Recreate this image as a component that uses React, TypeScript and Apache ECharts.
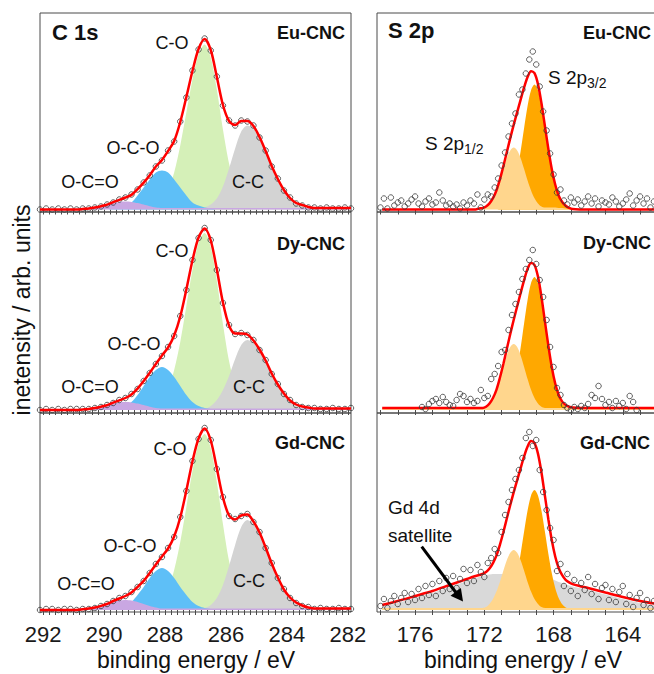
import { useEffect, useRef } from "react";
import * as echarts from "echarts";

// ---------- C 1s (binding energy grid, eV) ----------
const c1sEnergy = [292.1, 291.9, 291.7, 291.5, 291.3, 291.1, 290.9, 290.7, 290.5, 290.3, 290.1, 289.9, 289.7, 289.5, 289.3, 289.1, 288.9, 288.7, 288.5, 288.3, 288.1, 287.9, 287.7, 287.5, 287.3, 287.1, 286.9, 286.7, 286.5, 286.3, 286.1, 285.9, 285.7, 285.5, 285.3, 285.1, 284.9, 284.7, 284.5, 284.3, 284.1, 283.9, 283.7, 283.5, 283.3, 283.1, 282.9, 282.7, 282.5, 282.3, 282.1, 281.9];

const euCO = [0,0,0,0,0,0,0,0,0,0, 0,0,0,0,0,0,0,0,1,4, 9,20,37,64,97,130,155,165,152,120, 80,46,22,9,3,1,0,0,0,0, 0,0,0,0,0,0,0,0,0,0, 0,0];
const euCC = [0,0,0,0,0,0,0,0,0,0, 0,0,0,0,0,0,0,0,0,0, 0,0,0,0,0,0,0,2,5,11, 23,41,61,78,84,81,71,57,42,29, 18,10,5,3,1,0,0,0,0,0, 0,0];
const euOCO = [0,0,0,0,0,0,0,0,0,0, 0,0,1,2,4,7,14,22,30,37, 39,37,30,22,14,7,4,2,1,0, 0,0,0,0,0,0,0,0,0,0, 0,0,0,0,0,0,0,0,0,0, 0,0];
const euOCOO = [0,0,0,0,0,0,0,0.5,1,2, 3.3,4.9,6.4,7.6,8,7.6,6.4,4.9,3.3,2, 1.5,1.5,1.5,1.5,1.5,1.5,1.5,1.5,1.5,1.5, 1.5,1.5,1.5,1.5,1.5,1.5,1.5,1.5,1.5,1.5, 1.5,1.5,1.5,1.5,1.5,1.5,1.5,1.5,1.5,1.5, 1.5,1.5];
const euC1sData = [0,1,0,1,0,1,0,1,1,2, 3,5,7,10,12,15,20,27,34,43, 49,59,68,88,112,139,160,171,159,133, 104,89,84,89,88,84,72,59,43,31, 19,12,6,4,2,2,1,2,1,1, 2,1];

const dyCO = [0,0,0,0,0,0,0,0,0,0, 0,0,0,0,0,0,0,0,1,4, 10,21,40,68,104,140,167,177,163,129, 86,49,24,10,4,1,0,0,0,0, 0,0,0,0,0,0,0,0,0,0, 0,0];
const dyCC = [0,0,0,0,0,0,0,0,0,0, 0,0,0,0,0,0,0,0,0,0, 0,0,0,0,0,0,0,1,4,10, 20,34,51,65,70,67,59,48,35,24, 15,8,4,2,1,0,0,0,0,0, 0,0];
const dyOCO = [0,0,0,0,0,0,0,0,0,0, 0,0,1,2,4,8,15,24,33,40, 43,40,33,24,15,8,4,2,1,0, 0,0,0,0,0,0,0,0,0,0, 0,0,0,0,0,0,0,0,0,0, 0,0];
const dyOCOO = [0,0,0,0,0,0,0,0.5,1,2, 3.3,4.9,6.4,7.6,8,7.6,6.4,4.9,3.3,2, 1.5,1.5,1.5,1.5,1.5,1.5,1.5,1.5,1.5,1.5, 1.5,1.5,1.5,1.5,1.5,1.5,1.5,1.5,1.5,1.5, 1.5,1.5,1.5,1.5,1.5,1.5,1.5,1.5,1.5,1.5, 1.5,1.5];
const dyC1sData = [0,1,0,1,0,1,1,1,1,2, 3,5,7,10,12,16,21,29,37,46, 54,63,74,94,120,150,172,182,170,140, 107,85,76,77,75,70,60,50,36,26, 16,10,5,3,2,2,1,1,2,1, 1,2];

const gdCO = [0,0,0,0,0,0,0,0,0,0, 0,0,0,0,0,0,0,0,1,4, 10,21,40,68,103,139,166,176,162,128, 86,49,24,10,4,1,0,0,0,0, 0,0,0,0,0,0,0,0,0,0, 0,0];
const gdCC = [0,0,0,0,0,0,0,0,0,0, 0,0,0,0,0,0,0,0,0,0, 0,0,0,0,0,0,0,2,5,12, 25,44,65,83,90,86,76,61,45,31, 19,11,6,3,1,0,0,0,0,0, 0,0];
const gdOCO = [0,0,0,0,0,0,0,0,0,0, 0,0,1,2,4,8,15,23,32,39, 42,39,32,23,15,8,4,2,1,0, 0,0,0,0,0,0,0,0,0,0, 0,0,0,0,0,0,0,0,0,0, 0,0];
const gdOCOO = [0,0,0,0,0,0,0,0.7,1.4,2.5, 4.1,6.1,8,9.5,10,9.5,8,6.1,4.1,2.5, 1.5,1.5,1.5,1.5,1.5,1.5,1.5,1.5,1.5,1.5, 1.5,1.5,1.5,1.5,1.5,1.5,1.5,1.5,1.5,1.5, 1.5,1.5,1.5,1.5,1.5,1.5,1.5,1.5,1.5,1.5, 1.5,1.5];
const gdC1sData = [0,1,1,0,1,1,0,1,1,2, 4,6,9,12,14,18,23,29,37,46, 53,62,73,93,119,149,171,182,170,141, 113,94,91,94,96,88,78,62,47,32, 21,12,7,4,3,1,2,1,1,2, 1,1];

// ---------- S 2p ----------
const s2pEnergy = [177.9, 177.0, 176.0, 175.0, 174.0, 173.5, 173.0, 172.7, 172.5, 172.3, 172.1, 171.9, 171.7, 171.5, 171.3, 171.1, 170.9, 170.7, 170.5, 170.3, 170.1, 169.9, 169.7, 169.5, 169.3, 169.1, 168.9, 168.7, 168.5, 168.3, 168.1, 167.9, 167.7, 167.5, 167.3, 167.1, 166.9, 166.5, 166.0, 165.0, 164.0, 163.0, 162.0, 161.0];

const euS32 = [0,0,0,0,0,0,0,0,0,0, 0,0,0,0,0,1.1,2.8,6,12.3,22.8, 38.3,58.6,81.6,103.5,119.3,125,119.3,103.5,81.6,58.6, 38.3,22.8,12.3,6,2.8,1.1,0.4,0,0,0, 0,0,0,0];
const euS12 = [0,0,0,0,0,0,0,0,0,1, 1.5,3,6.1,11.3,19,29,40.5,51.3,59.1,62, 59.1,51.3,40.5,29,19,11.3,6.1,3,2,2, 2,2,1.5,1.5,1,0.5,0,0,0,0, 0,0,0,0];

const dyS32 = [0,0,0,0,0,0,0,0,0,0, 0,0,0,0,0,1.2,2.9,6.4,13,24.2, 40.7,62.4,86.8,110.1,126.9,133,126.9,110.1,86.8,62.4, 40.7,24.2,13,6.4,2.9,1.2,0.4,0,0,0, 0,0,0,0];
const dyS12 = [2,2,2,2,2,2,2,2,2,2, 2,3.2,6.5,12,20.2,31,43.1,54.6,63,66, 63,54.6,43.1,31,20.2,12,6.5,3.2,2,2, 2,2,2,2,2,2,2,2,2,2, 2,2,2,2];

const gdSat = [3,7,12,17,23,26,29,31,32,33, 34,35,35.5,36,36,36,36,36,36,36, 36,36,36,36,36,36,36,35.5,34,32.5, 31,29.5,28,27,25.5,24.5,23.5,22,20,15.5, 11,7,4,2];
const gdS32 = [0,0,0,0,0,0,0,0,0,0, 0,0,0,0,0,1.1,2.6,5.8,11.8,21.8, 36.7,56.3,78.4,99.4,114.5,120,114.5,99.4,78.4,56.3, 36.7,21.8,11.8,5.8,2.6,1.1,0.4,0,0,0, 0,0,0,0];
const gdS12 = [2,2,2,2,2,2,2,2,2,2, 2,2.9,5.9,10.9,18.4,28.1,39.2,49.7,57.2,60, 57.2,49.7,39.2,28.1,18.4,10.9,5.9,2.9,2,2, 2,2,2,2,2,2,2,2,2,2, 2,2,2,2];

const s2pDataEnergy = [178.0,177.8,177.6,177.4,177.2,177.0,176.8,176.6,176.4,176.2, 176.0,175.8,175.6,175.4,175.2,175.0,174.8,174.6,174.4,174.2, 174.0,173.8,173.6,173.4,173.2,173.0,172.8,172.6,172.4,172.2, 172.0,171.8,171.6,171.4,171.2,171.0,170.8,170.6,170.4,170.2, 170.0,169.8,169.6,169.4,169.2,169.0,168.8,168.6,168.4,168.2, 168.0,167.8,167.6,167.4,167.2,167.0,166.8,166.6,166.4,166.2, 166.0,165.8,165.6,165.4,165.2,165.0,164.8,164.6,164.4,164.2, 164.0,163.8,163.6,163.4,163.2,163.0,162.8,162.6,162.4,162.2];
const euS2pData = [2,11,1,12,4,7,9,3,6,10, 13,6,3,8,11,5,7,17,9,4, 6,3,5,1,7,4,9,6,15,2, 10,15,13,22,31,44,57,73,86,96, 115,120,136,150,158,145,123,98,79,56, 35,17,20,9,5,12,7,10,4,8, 13,6,11,3,9,7,5,12,8,3, 6,10,16,4,9,13,6,11,2,8];
const dyS2pData = [null,null,null,null,null,null,null,null,null,null, null,null,3,1,6,9,11,7,13,8, 5,4,10,16,14,8,11,7,9,20, 12,14,31,36,44,58,60,80,95,106, 118,131,141,150,160,146,130,113,90,63, 43,22,15,5,2,0,3,1,4,2, 6,15,12,24,11,5,8,2,9,4, 7,1,14,8,0,null,null,null,null,null];
const gdS2pData = [4,11,2,9,14,6,12,17,8,16, 10,21,12,24,15,26,14,29,19,32, 21,34,22,31,41,27,40,29,45,38, 33,47,52,61,57,78,95,108,120,131, 140,152,172,178,164,170,140,118,100,82, 70,39,46,24,36,19,30,14,27,20, 33,16,26,11,22,25,10,21,8,18, 24,6,15,3,12,17,5,10,2,9];

// ---------- axis ticks / labels ----------
const c1sLabels = [282, 284, 286, 288, 290, 292];
const s2pLabels = [164, 168, 172, 176];
const c1sTicks: number[] = [];
for (let k = 0; k <= 50; k++) c1sTicks.push(Math.round((282 + k * 0.2) * 10) / 10);
const s2pTicks: number[] = [];
for (let v = 161; v <= 178; v++) s2pTicks.push(v);

const FONT = "'Liberation Sans', Arial, sans-serif";
const C = {
  co: "#d5f0b8",
  cc: "#d3d3d3",
  oco: "#5ebff7",
  ocoo: "#c9a7e2",
  s32: "#ffa800",
  s12: "#ffd68d",
  sat: "#d9d9d9",
  fit: "#ff0000",
  axis: "#4a4a4a",
};

// the chart canvas is wider than the 654px window: the S 2p panels run past the right edge
const CANVAS_W = 700;
const tops = [13, 212, 413];
const heights = [199, 201, 199];
const yMins = [-2.5, -3, -2];

function zip(xs: number[], ys: (number | null)[]) {
  const out: [number, number][] = [];
  xs.forEach((x, i) => {
    const y = ys[i];
    if (y !== null && y !== undefined) out.push([x, y]);
  });
  return out;
}
function sum(arrs: number[][]) {
  return arrs[0].map((_, i) => arrs.reduce((s, a) => s + a[i], 0));
}

export default function App() {
  const ref = useRef<HTMLDivElement>(null);
  useEffect(() => {
    const chart = echarts.init(ref.current!, null, { renderer: "svg" });

    const grid: any[] = [];
    const xAxis: any[] = [];
    const yAxis: any[] = [];
    const series: any[] = [];

    const c1sPanels = [
      { comps: [[euCO, C.co], [euCC, C.cc], [euOCO, C.oco], [euOCOO, C.ocoo]], data: euC1sData },
      { comps: [[dyCO, C.co], [dyCC, C.cc], [dyOCO, C.oco], [dyOCOO, C.ocoo]], data: dyC1sData },
      { comps: [[gdCO, C.co], [gdCC, C.cc], [gdOCO, C.oco], [gdOCOO, C.ocoo]], data: gdC1sData },
    ];
    const s2pPanels = [
      { comps: [[euS32, C.s32], [euS12, C.s12]], data: euS2pData },
      { comps: [[dyS32, C.s32], [dyS12, C.s12]], data: dyS2pData },
      { comps: [[gdSat, C.sat], [gdS32, C.s32], [gdS12, C.s12]], data: gdS2pData },
    ];

    const addPanel = (idx: number, row: number, left: boolean, panel: any) => {
      grid.push({
        left: left ? 40 : 377,
        width: left ? 311 : 315,
        top: tops[row],
        height: heights[row],
        show: true,
        borderColor: C.axis,
        borderWidth: 1,
        backgroundColor: "transparent",
      });
      xAxis.push({
        gridIndex: idx,
        type: "value",
        min: left ? 281.9 : 160,
        max: left ? 292.1 : 178.2,
        inverse: true,
        axisLine: { show: false },
        splitLine: { show: false },
        axisTick: {
          show: true,
          inside: false,
          length: 5,
          customValues: left ? c1sTicks : s2pTicks,
          lineStyle: { color: C.axis, width: 1 },
        },
        axisLabel: {
          show: row === 2,
          customValues: left ? c1sLabels : s2pLabels,
          fontSize: 22,
          lineHeight: 22,
          fontFamily: FONT,
          color: "#1a1a1a",
          margin: 11,
        },
      });
      yAxis.push({
        gridIndex: idx,
        type: "value",
        min: yMins[row],
        max: heights[row] + yMins[row],
        show: false,
      });
      const energy = left ? c1sEnergy : s2pEnergy;
      panel.comps.forEach(([arr, color]: [number[], string]) => {
        series.push({
          type: "line",
          xAxisIndex: idx,
          yAxisIndex: idx,
          data: zip(energy, arr),
          smooth: 0.3,
          symbol: "none",
          lineStyle: { width: 0, opacity: 0 },
          areaStyle: { color, opacity: 1 },
          z: 2,
          silent: true,
        });
      });
      const env = sum(panel.comps.map((c: any) => c[0]));
      series.push({
        type: "scatter",
        xAxisIndex: idx,
        yAxisIndex: idx,
        data: zip(left ? c1sEnergy : s2pDataEnergy, panel.data),
        symbol: "circle",
        symbolSize: 5.5,
        itemStyle: { color: "rgba(255,255,255,0)", borderColor: "#3a3a3a", borderWidth: 1 },
        z: left ? 3 : 5,
        silent: true,
      });
      series.push({
        type: "line",
        xAxisIndex: idx,
        yAxisIndex: idx,
        data: zip(energy, env),
        smooth: 0.3,
        symbol: "none",
        lineStyle: { color: C.fit, width: 2.5 },
        z: 4,
        silent: true,
      });
    };

    c1sPanels.forEach((p, r) => addPanel(r, r, true, p));
    s2pPanels.forEach((p, r) => addPanel(3 + r, r, false, p));

    const txt = (x: number, y: number, text: string, size: number, opts: any = {}) => ({
      type: "text",
      x,
      y,
      z: 100,
      rotation: opts.rotation || 0,
      style: {
        text,
        fontSize: size,
        fontFamily: FONT,
        fontWeight: opts.bold ? "bold" : "normal",
        fill: "#111",
        lineHeight: opts.lineHeight,
        textAlign: opts.align || "center",
        textVerticalAlign: "middle",
        rich: opts.rich,
      },
    });
    const subRich = {
      a: { fontSize: 19, fontFamily: FONT, lineHeight: 26, verticalAlign: "middle", fill: "#111" },
      b: { fontSize: 14, fontFamily: FONT, lineHeight: 14, verticalAlign: "bottom", fill: "#111" },
    };

    const graphic: any[] = [
      txt(52, 32, "C 1s", 22, { bold: true, align: "left" }),
      txt(345, 33, "Eu-CNC", 18, { bold: true, align: "right" }),
      txt(345, 244, "Dy-CNC", 18, { bold: true, align: "right" }),
      txt(345, 443, "Gd-CNC", 18, { bold: true, align: "right" }),
      txt(172, 43, "C-O", 18),
      txt(133, 148, "O-C-O", 18),
      txt(90, 182, "O-C=O", 18),
      txt(248, 182, "C-C", 18),
      txt(172, 251, "C-O", 18),
      txt(134, 344, "O-C-O", 18),
      txt(90, 387, "O-C=O", 18),
      txt(249, 387, "C-C", 18),
      txt(170, 449, "C-O", 18),
      txt(130, 546, "O-C-O", 18),
      txt(86, 584, "O-C=O", 18),
      txt(249, 581, "C-C", 18),
      txt(388, 30, "S 2p", 22, { bold: true, align: "left" }),
      txt(583, 33, "Eu-CNC", 18, { bold: true, align: "left" }),
      txt(583, 243, "Dy-CNC", 18, { bold: true, align: "left" }),
      txt(580, 443, "Gd-CNC", 18, { bold: true, align: "left" }),
      txt(548, 77, "{a|S 2p}{b|3/2}", 19, { align: "left", rich: subRich }),
      txt(425, 143, "{a|S 2p}{b|1/2}", 19, { align: "left", rich: subRich }),
      txt(388, 507, "Gd 4d", 19, { align: "left" }),
      txt(388, 535, "satellite", 19, { align: "left" }),
      txt(196, 659.5, "binding energy / eV", 23, { lineHeight: 22 }),
      txt(523, 659.5, "binding energy / eV", 23, { lineHeight: 22 }),
      txt(22, 310, "inetensity / arb. units", 23, { rotation: Math.PI / 2 }),
      {
        type: "line",
        z: 100,
        shape: { x1: 421.7, y1: 546.7, x2: 457, y2: 594 },
        style: { stroke: "#000", lineWidth: 3 },
      },
      {
        type: "polygon",
        z: 100,
        shape: { points: [[463, 601.5], [450.5, 595.8], [460.9, 588]] },
        style: { fill: "#000" },
      },
    ];

    chart.setOption({
      animation: false,
      backgroundColor: "#fff",
      grid,
      xAxis,
      yAxis,
      series,
      graphic,
    });
    return () => chart.dispose();
  }, []);
  return (
    <div
      ref={ref}
      style={{ position: "fixed", left: 0, top: 0, width: CANVAS_W, height: 674, background: "#fff" }}
    />
  );
}
